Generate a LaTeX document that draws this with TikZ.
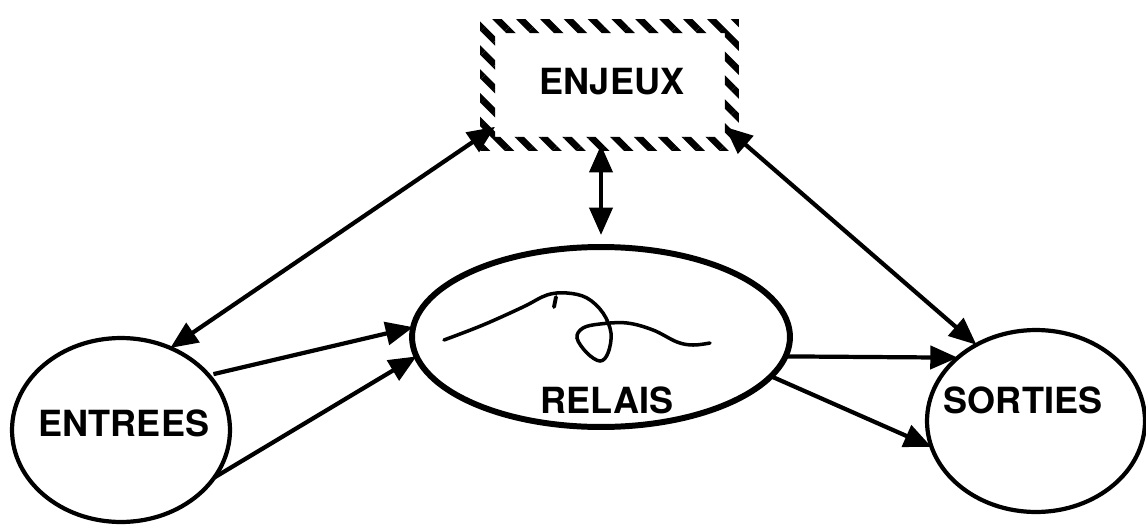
\documentclass[tikz,border=0pt]{standalone}
\usepackage{fontspec}
\setmainfont{TeX Gyre Heros}
\usetikzlibrary{arrows.meta,shapes.geometric,patterns.meta}

\begin{document}
\begin{tikzpicture}[x=0.02cm, y=-0.02cm,
    every node/.style={inner sep=0pt, outer sep=0pt},
    bubble/.style={ellipse, draw, line width=2.4pt},
    lbl/.style={font=\fontsize{20.5}{24}\selectfont\bfseries},
    link/.style={line width=2.4pt, -{Triangle[length=0.55cm, width=0.46cm]}},
    dlink/.style={line width=2.4pt, {Triangle[length=0.55cm, width=0.46cm]}-{Triangle[length=0.55cm, width=0.46cm]}},
    hatch/.style={pattern={Lines[angle=-45, distance=9.6pt, line width=3.8pt]}, pattern color=black, even odd rule}]
    \useasboundingbox (0,0) rectangle (1146,524);
    % Ellipses
    \node[bubble, minimum width=4.36cm, minimum height=3.68cm] (entrees) at (121,430) {};
    \node[bubble, line width=3.4pt, minimum width=7.56cm, minimum height=3.6cm] (relais) at (601,337) {};
    \node[bubble, minimum width=4.36cm, minimum height=3.64cm] (sorties) at (1036,421) {};
    % Hatched box
    \node[minimum width=4.6cm, minimum height=2.08cm] (enjeux) at (610,85) {};
    \path[hatch] ([shift={(-15,14)}]enjeux.south west) rectangle ([shift={(14,-14)}]enjeux.north east)
        (enjeux.south west) rectangle (enjeux.north east);
    % Labels
    \node[lbl] (enjeux-t) at (612,82) {ENJEUX};
    \node[lbl] (entrees-t) at (124,423) {ENTREES};
    \node[lbl] (relais-t) at (607,400) {RELAIS};
    \node[lbl] (sorties-t) at (1023,400) {SORTIES};
    % Squiggle
    \draw[line width=2pt, line cap=round] plot[smooth, tension=0.6] coordinates {
        (444,340) (483,325) (523,307) (547,295) (567,293) (587,298) (603,313)
        (611,333) (608,353) (600,361) (587,353) (577,338) (583,328) (600,324)
        (627,323) (653,330) (677,342) (693,345) (710,343)};
    \draw[line width=2.2pt, line cap=round] (556,297) -- (554,307);
    % Connectors
    \draw[dlink] (entrees.59) -- (enjeux.200);
    \draw[dlink] (enjeux.-20) -- (sorties.128);
    \draw[dlink, shorten <=0.16cm, shorten >=0.24cm] (relais.north |- enjeux.south) -- (relais.north);
    \draw[link, shorten <=0.1cm] (entrees.32) -- (relais.177);
    \draw[link] (entrees.-27) -- (relais.186);
    \draw[link] (relais.-6.6) -- (sorties.141);
    \draw[link] (relais.-13.2) -- (sorties.194);
\end{tikzpicture}
\end{document}
